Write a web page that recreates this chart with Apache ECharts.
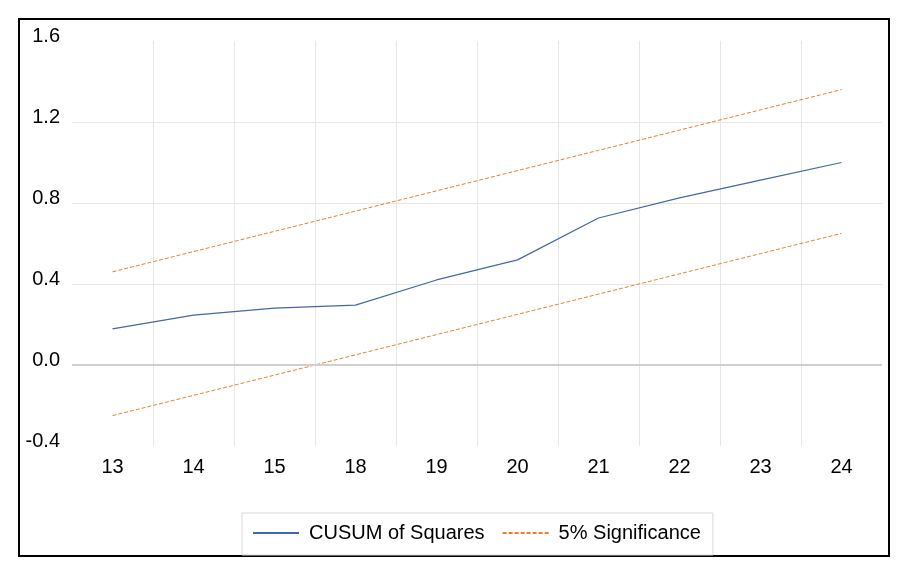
<!DOCTYPE html>
<html lang="en">
<head>
	<meta charset="UTF-8">
	<title>CUSUM of Squares</title>
	<script src="https://cdn.jsdelivr.net/npm/echarts@6/dist/echarts.min.js"></script>
	<style>
		html, body {
			margin: 0;
			padding: 0;
			background: #fff;
		}
		.box {
			width: 909px;
			height: 570px;
		}
	</style>
</head>
<body>
	<div class="box" id="main"></div>

	<script>
		// values
		let periods = ['13', '14', '15', '18', '19', '20', '21', '22', '23', '24'];
		let cusumSq = [0.178, 0.246, 0.281, 0.296, 0.42, 0.519, 0.726, 0.825, 0.913, 1.0];
		let upper = [0.46, 0.56, 0.66, 0.76, 0.86, 0.96, 1.06, 1.16, 1.26, 1.36];
		let lower = [-0.25, -0.15, -0.05, 0.05, 0.15, 0.25, 0.35, 0.45, 0.55, 0.65];
		let yTicks = { min: -0.4, max: 1.6, step: 0.4 };

		let font = 'Liberation Sans, Arial, sans-serif';
		let blue = '#4468a4';
		let orange = '#ed7d31';

		let chart = echarts.init(document.getElementById('main'));

		let options = {
			animation: false,
			textStyle: { fontFamily: font },
			grid: {
				left: 72,
				right: 27,
				top: 41,
				bottom: 124
			},
			xAxis: {
				type: 'category',
				data: periods,
				boundaryGap: true,
				axisLine: { show: false },
				axisTick: { show: false },
				axisLabel: {
					color: '#000',
					fontSize: 20,
					fontFamily: font,
					margin: 11
				},
				splitLine: {
					show: true,
					showMinLine: false,
					showMaxLine: false,
					lineStyle: { color: '#e6e6e6', width: 1 }
				}
			},
			yAxis: {
				type: 'value',
				min: yTicks.min,
				max: yTicks.max,
				interval: yTicks.step,
				axisLine: { show: false },
				axisTick: { show: false },
				axisLabel: {
					color: '#000',
					fontSize: 20,
					fontFamily: font,
					margin: 12,
					verticalAlign: 'bottom',
					lineHeight: 10,
					formatter: v => v.toFixed(1)
				},
				splitLine: {
					show: true,
					showMinLine: false,
					showMaxLine: false,
					lineStyle: { color: '#e6e6e6', width: 1 }
				}
			},
			legend: {
				left: 242,
				top: 513,
				padding: [10, 12, 12, 10],
				itemGap: 17,
				itemWidth: 46,
				itemHeight: 14,
				borderColor: '#d9d9d9',
				borderWidth: 1,
				itemStyle: { opacity: 0 },
				textStyle: {
					color: '#000',
					fontSize: 20,
					fontFamily: font,
					padding: [0, 0, 0, 5]
				},
				data: ['CUSUM of Squares', '5% Significance']
			},
			series: [
				{
					name: 'CUSUM of Squares',
					type: 'line',
					data: cusumSq,
					symbol: 'none',
					z: 3,
					lineStyle: { color: blue, width: 1.2 },
					itemStyle: { color: blue },
					markLine: {
						silent: true,
						symbol: 'none',
						label: { show: false },
						lineStyle: { color: '#d0d0d0', width: 2, type: 'solid' },
						data: [{ yAxis: 0 }]
					}
				},
				{
					name: '5% Significance',
					type: 'line',
					data: upper,
					symbol: 'none',
					lineStyle: { color: orange, width: 1, type: [4, 2] },
					itemStyle: { color: orange }
				},
				{
					name: '5% Significance',
					type: 'line',
					data: lower,
					symbol: 'none',
					lineStyle: { color: orange, width: 1, type: [4, 2] },
					itemStyle: { color: orange }
				}
			],
			graphic: [{
				type: 'rect',
				silent: true,
				shape: { x: 19, y: 19, width: 870, height: 537 },
				style: { fill: 'none', stroke: '#000', lineWidth: 2 }
			}]
		};
		chart.setOption(options);
	</script>
</body>
</html>
